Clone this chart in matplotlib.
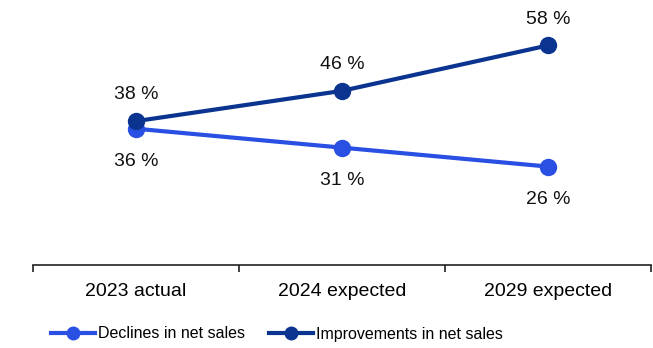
import matplotlib
matplotlib.use("Agg")
import matplotlib.pyplot as plt
from matplotlib.lines import Line2D

plt.rcParams['font.family'] = ['Liberation Sans', 'DejaVu Sans']

categories = ["2023 actual", "2024 expected", "2029 expected"]
declines = [36, 31, 26]
improvements = [38, 46, 58]

c_decl = "#2A4FE3"
c_impr = "#0A348F"

fig = plt.figure(figsize=(6.53, 3.48), dpi=100)
ax = fig.add_axes([33 / 653, 1 - 265 / 348, 618 / 653, 265 / 348])

x = list(range(len(categories)))
ax.plot(x, declines, color=c_decl, lw=3, marker="o", ms=11.5, zorder=3)
ax.plot(x, improvements, color=c_impr, lw=3, marker="o", ms=11.5, zorder=4)

for xi, v in zip(x, improvements):
    ax.annotate(f"{v} %", (xi, v), xytext=(0, 19), textcoords="offset points",
                ha="center", va="center", fontsize=14, color="#111111")
for xi, v in zip(x, declines):
    ax.annotate(f"{v} %", (xi, v), xytext=(0, -23.5), textcoords="offset points",
                ha="center", va="center", fontsize=14, color="#111111")

ax.set_xlim(-0.5, len(categories) - 0.5)
ax.set_ylim(0, 70)
for s in ["top", "right", "left"]:
    ax.spines[s].set_visible(False)
ax.spines["bottom"].set_linewidth(1.2)
ax.spines["bottom"].set_color("#222222")
ax.set_yticks([])
ax.set_xticks([i - 0.5 for i in range(len(categories) + 1)])
ax.set_xticklabels([])
ax.tick_params(axis="x", which="major", length=5, width=1.2, color="#222222", direction="out")
ax.set_xticks(x, minor=True)
ax.set_xticklabels(categories, minor=True, fontsize=14)
ax.tick_params(axis="x", which="minor", length=0, pad=13)

handles = [
    Line2D([], [], color=c_decl, lw=3, marker="o", ms=9),
    Line2D([], [], color=c_impr, lw=3, marker="o", ms=9),
]
fig.legend(handles, ["Declines in net sales", "Improvements in net sales"],
           loc="center", bbox_to_anchor=(277 / 653, 1 - 334 / 348), ncol=2,
           frameon=False, prop={'size': 11.5},
           handlelength=2.75, handletextpad=0.2,
           columnspacing=1.45, borderaxespad=0)

fig.savefig("out.png", dpi=100)
